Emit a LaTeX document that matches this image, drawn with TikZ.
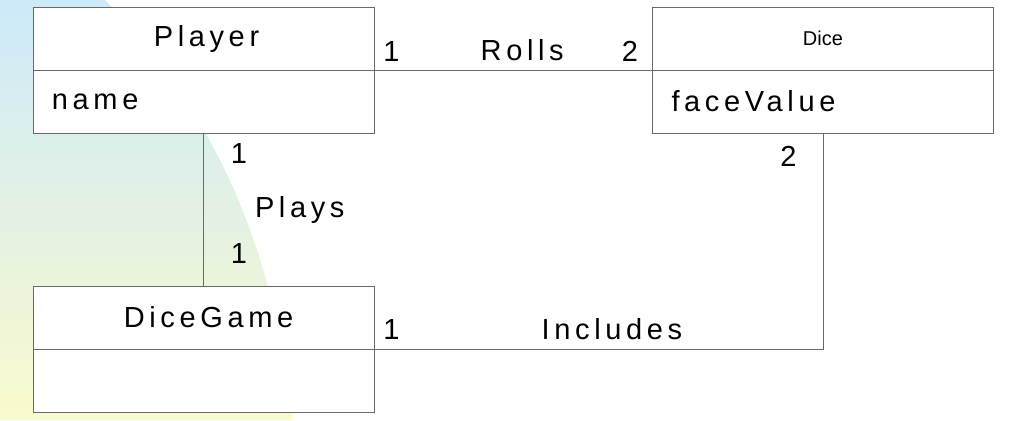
\documentclass[tikz,border=0pt]{standalone}
\usepackage{fontspec}
\setmainfont{Liberation Sans}
\newfontfamily\umlfont[LetterSpace=16]{Liberation Sans}
\usetikzlibrary{positioning}
\definecolor{bgblue}{RGB}{205,233,250}
\definecolor{bggreen}{RGB}{226,240,224}
\definecolor{bgyellow}{RGB}{250,250,205}
\definecolor{umlline}{RGB}{105,105,105}

\begin{document}
\begin{tikzpicture}[x=1pt,y=1pt,
    classhead/.style={draw=umlline, fill=white, line width=0.5pt, outer sep=0pt,
      minimum width=170.5pt, minimum height=31.5pt, inner sep=0pt,
      font=\umlfont\fontsize{14.5}{16}\selectfont},
    classbody/.style={draw=umlline, fill=white, line width=0.5pt, outer sep=0pt,
      minimum height=31.5pt, inner xsep=9.5pt, inner ysep=0pt,
      text width=151.5pt, align=left,
      font=\umlfont\fontsize{14.5}{16}\selectfont},
    assoc/.style={draw=umlline, line width=0.5pt},
    mult/.style={inner sep=0pt, font=\umlfont\fontsize{14.5}{16}\selectfont}]
  \useasboundingbox (0,0) rectangle (507,210);
  % Background swoosh
  \shade[top color=bgblue, middle color=bggreen, bottom color=bgyellow]
    (0,0) -- (0,210) -- (52.5,210) .. controls (100,160) and (135,100) .. (146.5,0) -- cycle;
  % Classes
  \node[classhead] (player) at (101.75,190.75) {\hspace{3pt}Player};
  \node[classbody, below=0pt of player] (playerattr) {name};
  \node[classhead, font=\fontsize{10}{12}\selectfont] (dice) at (411.5,190.75) {Dice};
  \node[classbody, below=0pt of dice] (diceattr) {faceValue};
  \node[classhead] (game) at (101.75,51.25) {\hspace{5pt}DiceGame};
  \node[classbody, below=0pt of game] (gameattr) {};
  % Rolls
  \draw[assoc] (player.south east) -- node[mult, above=4.25pt, xshift=4.5pt] {Rolls} (dice.south west);
  \node[mult, above right=4.25pt and 4.5pt of player.south east] (rollsa) {1};
  \node[mult, above left=4.25pt and 7pt of dice.south west] (rollsb) {2};
  % Plays
  \draw[assoc] (playerattr.south) -- node[mult, right=25.5pt] {Plays} (game.north);
  \node[mult, below right=5pt and 13.5pt of playerattr.south] (playsa) {1};
  \node[mult, above right=11pt and 13.5pt of game.north] (playsb) {1};
  % Includes
  \draw[assoc] (game.south east) -| node[pos=0.265, mult, above=4.5pt] {Includes} (diceattr.south);
  \node[mult, above right=4.5pt and 4.5pt of game.south east] (incla) {1};
  \node[mult, below left=6.5pt and 13pt of diceattr.south] (inclb) {2};
\end{tikzpicture}
\end{document}
